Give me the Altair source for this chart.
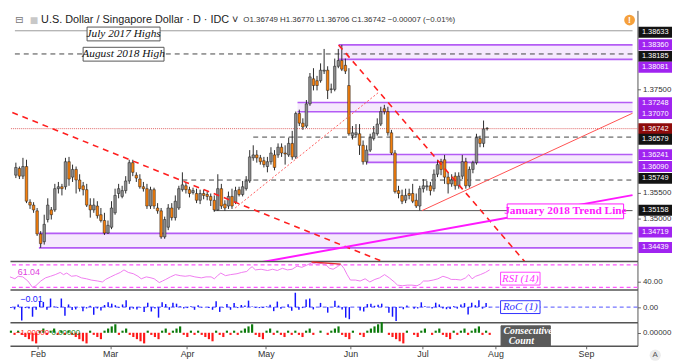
import altair as alt
import pandas as pd

# ---------------- data ----------------
opens = [
    1.35843, 1.35973, 1.35824, 1.36010, 1.35321, 1.35265, 1.35154, 1.34707, 1.34558, 1.34986,
    1.35172, 1.35172, 1.35582, 1.35619, 1.35619, 1.36103, 1.35805, 1.35954, 1.35750, 1.35638,
    1.35563, 1.35265, 1.35172, 1.35247, 1.35079, 1.34967, 1.34725, 1.34837, 1.35116, 1.35489,
    1.35433, 1.35545, 1.35731, 1.36085, 1.35843, 1.35768, 1.35619, 1.35582, 1.35247, 1.35563,
    1.35209, 1.35154, 1.34651, 1.34837, 1.35209, 1.35023, 1.35209, 1.35563, 1.35638, 1.35563,
    1.35508, 1.35489, 1.35358, 1.35489, 1.35470, 1.35433, 1.35358, 1.35172, 1.35582, 1.35284,
    1.35247, 1.35433, 1.35321, 1.35563, 1.35470, 1.35582, 1.35731, 1.36178, 1.36234, 1.36178,
    1.36122, 1.36010, 1.36103, 1.36234, 1.36234, 1.36383, 1.36271, 1.36234, 1.36457, 1.36196,
    1.37034, 1.36848, 1.36792, 1.37221, 1.37705, 1.37668, 1.37668, 1.37854, 1.37872, 1.37500,
    1.37500, 1.37947, 1.38059, 1.37966, 1.37575, 1.36606, 1.36625, 1.36643, 1.36420, 1.36103,
    1.36327, 1.36550, 1.36643, 1.36830, 1.37128, 1.37072, 1.36662, 1.36271, 1.35545, 1.35452,
    1.35358, 1.35489, 1.35489, 1.35358, 1.35247, 1.35582, 1.35619, 1.35638, 1.35582, 1.35861,
    1.36103, 1.36141, 1.35805, 1.35675, 1.35824, 1.35638, 1.35824, 1.36103, 1.35638, 1.35954,
    1.36085, 1.36550, 1.36457, 1.36749,
]
highs = [
    1.36085, 1.36010, 1.36178, 1.36141, 1.35377, 1.35321, 1.35209, 1.34762, 1.35079, 1.35396,
    1.35228, 1.35675, 1.35712, 1.35675, 1.36178, 1.36196, 1.36047, 1.36010, 1.35861, 1.35712,
    1.35675, 1.35396, 1.35396, 1.35340, 1.35209, 1.35116, 1.34967, 1.35340, 1.35582, 1.35675,
    1.35638, 1.35824, 1.36141, 1.36141, 1.35898, 1.35861, 1.35712, 1.35675, 1.35619, 1.35601,
    1.35303, 1.35209, 1.35042, 1.35284, 1.35303, 1.35452, 1.35638, 1.35898, 1.35712, 1.35619,
    1.35601, 1.35582, 1.35563, 1.35563, 1.35526, 1.35489, 1.35452, 1.35861, 1.35675, 1.35358,
    1.35526, 1.35582, 1.35619, 1.35619, 1.35731, 1.35824, 1.36327, 1.36420, 1.36327, 1.36234,
    1.36196, 1.36196, 1.36383, 1.36327, 1.36457, 1.36457, 1.36420, 1.36569, 1.36699, 1.37072,
    1.37109, 1.36941, 1.37295, 1.37817, 1.37910, 1.37761, 1.38003, 1.38282, 1.37947, 1.37612,
    1.38096, 1.38282, 1.38360, 1.38096, 1.37910, 1.36792, 1.36830, 1.36830, 1.36513, 1.36420,
    1.36643, 1.36792, 1.36941, 1.37165, 1.37202, 1.37165, 1.36718, 1.36327, 1.35638, 1.35563,
    1.35582, 1.35582, 1.35675, 1.35489, 1.35638, 1.35768, 1.35731, 1.35712, 1.35954, 1.36141,
    1.36159, 1.36234, 1.35898, 1.35861, 1.35898, 1.35898, 1.36234, 1.36178, 1.36010, 1.36122,
    1.36643, 1.36606, 1.36899, 1.36770,
]
lows = [
    1.35787, 1.35768, 1.35768, 1.35303, 1.35191, 1.35116, 1.34669, 1.34439, 1.34502, 1.34930,
    1.34986, 1.35135, 1.35489, 1.35452, 1.35563, 1.35638, 1.35712, 1.35489, 1.35526, 1.35452,
    1.35228, 1.35023, 1.35116, 1.35005, 1.34930, 1.34688, 1.34707, 1.34800, 1.35079, 1.35396,
    1.35396, 1.35489, 1.35675, 1.35824, 1.35712, 1.35582, 1.35526, 1.35191, 1.35191, 1.35191,
    1.35098, 1.34614, 1.34614, 1.34781, 1.34967, 1.34967, 1.35172, 1.35526, 1.35489, 1.35414,
    1.35470, 1.35303, 1.35284, 1.35377, 1.35358, 1.35247, 1.35135, 1.35154, 1.35191, 1.35154,
    1.35191, 1.35191, 1.35284, 1.35433, 1.35433, 1.35545, 1.35694, 1.36122, 1.36085, 1.36047,
    1.35992, 1.35898, 1.36047, 1.35936, 1.36178, 1.36196, 1.36047, 1.36196, 1.36141, 1.36159,
    1.36792, 1.36718, 1.36755, 1.37183, 1.37481, 1.37481, 1.37630, 1.37798, 1.37314, 1.37426,
    1.37463, 1.37910, 1.37854, 1.37798, 1.36606, 1.36532, 1.36569, 1.36234, 1.36047, 1.36047,
    1.36290, 1.36513, 1.36606, 1.36792, 1.37016, 1.36606, 1.36234, 1.35489, 1.35396, 1.35284,
    1.35303, 1.35377, 1.35303, 1.35209, 1.35158, 1.35508, 1.35545, 1.35452, 1.35526, 1.35805,
    1.35843, 1.35675, 1.35489, 1.35619, 1.35563, 1.35582, 1.35768, 1.35582, 1.35601, 1.35880,
    1.36047, 1.36383, 1.36383, 1.36706,
]
closes = [
    1.35992, 1.35824, 1.36010, 1.35340, 1.35265, 1.35172, 1.34707, 1.34520, 1.34893, 1.35265,
    1.35079, 1.35582, 1.35619, 1.35582, 1.36103, 1.35768, 1.35954, 1.35750, 1.35582, 1.35563,
    1.35265, 1.35172, 1.35265, 1.35060, 1.34967, 1.34725, 1.34874, 1.35209, 1.35452, 1.35582,
    1.35545, 1.35731, 1.36085, 1.35898, 1.35787, 1.35619, 1.35582, 1.35247, 1.35563, 1.35247,
    1.35154, 1.34651, 1.34986, 1.35209, 1.35023, 1.35340, 1.35582, 1.35656, 1.35563, 1.35489,
    1.35545, 1.35358, 1.35489, 1.35452, 1.35433, 1.35358, 1.35172, 1.35582, 1.35247, 1.35209,
    1.35433, 1.35247, 1.35545, 1.35470, 1.35619, 1.35731, 1.36196, 1.36234, 1.36178, 1.36103,
    1.36047, 1.36103, 1.36271, 1.35992, 1.36383, 1.36271, 1.36252, 1.36457, 1.36196, 1.37034,
    1.36848, 1.36774, 1.37221, 1.37742, 1.37575, 1.37575, 1.37872, 1.37872, 1.37481, 1.37510,
    1.37947, 1.38059, 1.37891, 1.37854, 1.36643, 1.36662, 1.36662, 1.36420, 1.36103, 1.36327,
    1.36569, 1.36662, 1.36830, 1.37072, 1.37072, 1.36662, 1.36271, 1.35526, 1.35489, 1.35340,
    1.35452, 1.35452, 1.35340, 1.35247, 1.35582, 1.35638, 1.35638, 1.35545, 1.35861, 1.36047,
    1.35954, 1.35805, 1.35675, 1.35750, 1.35638, 1.35824, 1.36103, 1.35638, 1.35954, 1.36085,
    1.36569, 1.36457, 1.36737, 1.36742,
]
roc_vals = [
    -0.05, -0.12, 0.14, -0.70, -0.05, -0.07, -0.50, -0.14, 0.30, 0.27,
    -0.14, 0.45, 0.03, -0.03, 0.45, -0.45, 0.14, -0.15, -0.12, -0.01,
    -0.22, -0.07, 0.07, -0.40, -0.07, -0.18, 0.11, 0.25, 0.18, 0.10,
    -0.03, 0.14, 0.36, -0.14, -0.08, -0.12, -0.03, -0.25, 0.23, -0.23,
    -0.07, -0.55, 0.25, 0.16, -0.14, 0.23, 0.18, 0.05, -0.07, -0.05,
    0.04, -0.14, 0.10, -0.03, -0.01, -0.05, -0.14, 0.30, -0.25, -0.03,
    0.16, -0.14, 0.22, -0.05, 0.11, 0.08, 0.34, 0.03, -0.04, -0.05,
    -0.04, 0.04, 0.12, -0.21, 0.29, -0.08, -0.01, 0.15, -0.19, 0.75,
    -0.14, -0.05, 0.40, 0.45, -0.12, 0.00, 0.22, 0.00, -0.29, 0.01,
    0.33, 0.08, -0.12, -0.55, -0.63, 0.01, 0.00, -0.18, -0.23, 0.16,
    0.18, 0.07, 0.12, 0.18, 0.00, -0.30, -0.50, -0.72, -0.03, -0.11,
    0.08, 0.00, -0.08, -0.07, 0.25, 0.04, 0.00, -0.07, 0.23, 0.14,
    -0.07, -0.11, -0.10, 0.05, -0.08, 0.14, 0.21, -0.38, 0.23, 0.10,
    0.36, -0.08, 0.21, -0.01,
]
count_vals = [
    1, -1, 1, -1, -2, -3, -4, -5, 1, 2,
    -1, 1, 2, -1, 1, -1, 1, -1, -2, -3,
    -4, -5, 1, -1, -2, -3, 1, 2, 3, 4,
    -1, 1, 2, -1, -2, -3, -4, -5, 1, -1,
    -2, -3, 1, 2, -1, 1, 2, 3, -1, -2,
    1, -1, 1, -1, -2, -3, -4, 1, -1, -2,
    1, -1, 1, -1, 1, 2, 3, 4, -1, -2,
    -3, 1, 2, -1, 1, -1, -2, 1, -1, 1,
    -1, -2, 1, 2, -1, 0, 1, 0, -1, 1,
    2, 3, -1, -2, -3, 1, 0, -1, -2, 1,
    2, 3, 4, 5, 0, -1, -2, -3, -4, -5,
    1, 0, -1, -2, 1, 2, 0, -1, 1, 2,
    -1, -2, -3, 1, -1, 1, 2, -1, 1, 2,
    3, -1, 1, -1,
]
# RSI(14) read at points along the line: (bar position, value)
rsi_read = [
    (-0.27, 48.6), (1.1, 45.2), (2.0, 49.7), (3.3, 48.6), (4.7, 41.3), (6.0, 30.0), (6.9, 32.9),
    (8.3, 41.3), (9.6, 46.9), (11.0, 49.7), (12.3, 52.6), (13.7, 56.5), (14.6, 52.6), (15.5, 55.4),
    (16.8, 49.7), (18.2, 50.8), (19.6, 46.9), (21.0, 45.2), (22.3, 43.0), (24.1, 41.3), (25.4, 39.6),
    (26.3, 44.1), (27.7, 48.6), (29.0, 52.6), (30.4, 56.5), (31.4, 61.0), (32.6, 56.5), (34.0, 54.2),
    (35.3, 49.7), (36.2, 45.2), (37.6, 48.6), (38.9, 46.9), (39.8, 45.2), (41.2, 38.5), (42.1, 41.3),
    (43.0, 44.1), (44.3, 48.6), (45.7, 52.6), (47.0, 50.8), (48.4, 49.7), (49.7, 50.8), (51.1, 48.6),
    (52.9, 46.9), (54.2, 48.6), (55.6, 48.6), (56.5, 45.2), (57.4, 50.8), (58.3, 55.4), (59.6, 50.8),
    (61.0, 52.6), (62.8, 54.2), (64.1, 56.5), (65.5, 58.2), (66.4, 63.8), (67.0, 66.6), (67.9, 61.0),
    (69.5, 62.1), (71.3, 59.9), (72.7, 62.1), (74.0, 59.9), (75.4, 63.8), (76.8, 61.0), (78.1, 62.1),
    (79.5, 67.7), (80.8, 65.5), (82.2, 69.4), (83.5, 73.4), (84.9, 71.1), (86.2, 72.3), (87.6, 69.4),
    (88.5, 63.8), (89.5, 62.1), (90.7, 66.6), (91.6, 71.1), (92.5, 63.8), (93.4, 52.6), (94.3, 43.0),
    (95.7, 43.0), (97.0, 41.3), (98.4, 45.2), (99.7, 39.6), (101.1, 44.1), (102.4, 46.9), (103.8, 52.6),
    (105.1, 46.9), (106.5, 39.6), (107.4, 34.0), (108.7, 32.9), (110.1, 34.0), (111.4, 34.0),
    (112.8, 32.9), (113.7, 35.7), (114.6, 41.3), (115.9, 41.3), (117.3, 43.0), (118.6, 45.2),
    (120.0, 49.7), (121.4, 46.9), (122.3, 44.1), (123.6, 44.1), (125.0, 43.0), (126.3, 46.9),
    (127.2, 52.6), (128.1, 45.2), (129.1, 49.7), (130.4, 52.6), (131.8, 56.5), (133.0, 61.04),
]
rsi_div = [(83.5, 75.1), (91.6, 71.2)]

month_names = ["Feb", "Mar", "Apr", "May", "Jun", "Jul", "Aug", "Sep"]
month_pos = [7.46, 27.57, 48.92, 70.81, 94.32, 114.32, 134.59, 159.73]

zone_lo = [1.38081, 1.37070, 1.36090, 1.34439]
zone_hi = [1.38360, 1.37248, 1.36241, 1.34719]
zone_from = [91.1, 79.5, 99.0, 6.5]

level_vals = [1.38633, 1.38185, 1.36579, 1.35749, 1.35158]
level_from = [-0.27, -0.27, 67.0, 47.0, 55.9]
level_style = ["light", "dash", "dash", "dash", "solid"]
last_price = 1.36742

tag_text = ["1.38633", "1.38360", "1.38185", "1.38081", "1.37248", "1.37070", "1.36742",
            "1.36579", "1.36241", "1.36090", "1.35749", "1.35158", "1.34719", "1.34439"]
tag_anchor = [1.38604, 1.38362, 1.38139, 1.37928, 1.37245, 1.37034, 1.36742,
              1.36537, 1.36239, 1.36010, 1.35781, 1.35165, 1.34744, 1.34446]
tag_kind = ["level", "zone", "level", "zone", "zone", "zone", "price",
            "level", "zone", "zone", "level", "level", "zone", "zone"]
axis_prices = [1.35, 1.355, 1.375]

# drawn trend lines: (bar position, price)
red_dash_a = [(-1.0, 1.37054), (105.0, 1.34133)]
red_dash_b = [(91.1, 1.38360), (145.7, 1.34007)]
red_dotted = [(61.9, 1.35209), (102.4, 1.37444)]
red_thin = [(114.6, 1.35158), (174.05, 1.37040)]
magenta_tl = [(65.9, 1.34120), (174.05, 1.35457)]

title_txt = "U.S. Dollar / Singapore Dollar · D · IDC ˅"
ohlc_txt = "O1.36749  H1.36770  L1.36706  C1.36742  −0.00007 (−0.01%)"

# ---------------- layout ----------------
W = 636
H_MAIN, H_RSI, H_ROC, H_CNT = 254, 29, 33, 24
X_DOM = [-0.27, 174.05]
X_END = X_DOM[1]
SANS = "Liberation Sans"
SERIF = "Liberation Serif"

xs = alt.Scale(domain=X_DOM, nice=False, zero=False)
ys_main = alt.Scale(domain=[1.34185, 1.39027], nice=False, zero=False)
ys_rsi = alt.Scale(domain=[26.1, 76.75], nice=False, zero=False)
ys_roc = alt.Scale(domain=[-0.785, 0.915], nice=False, zero=False)
ys_cnt = alt.Scale(domain=[-6.14, 5.0], nice=False, zero=False)

xaxis_sep = alt.Axis(orient="bottom", labels=False, ticks=False, domain=True,
                     domainColor="#555555", domainWidth=1.5, grid=False, title=None)

lab_expr = f"'{month_names[-1]}'"
for p, nm in zip(reversed(month_pos[:-1]), reversed(month_names[:-1])):
    lab_expr = f"datum.value < {p + 1} ? '{nm}' : ({lab_expr})"
xaxis_month = alt.Axis(orient="bottom", values=month_pos, labelExpr=lab_expr, labelFontSize=9,
                       labelColor="#333333", labelFont=SANS, tickSize=3, tickColor="#666666",
                       domain=True, domainColor="#555555", domainWidth=1.5, grid=False,
                       title=None, labelPadding=1)


def yaxis(values, fmt):
    return alt.Axis(orient="right", values=values, format=fmt, title=None, grid=False,
                    labelFontSize=8, labelColor="#333333", labelFont=SANS, tickSize=3,
                    tickColor="#666666", domainColor="#555555", domainWidth=1, labelPadding=2)


def mk_x(axis):
    return lambda f: alt.X(f"{f}:Q", scale=xs, axis=axis, title=None)


def mk_y(scale, axis):
    return lambda f: alt.Y(f"{f}:Q", scale=scale, axis=axis, title=None)


def rect_path(w, h):
    r = h / w
    return f"M-1,{-r:.4f}L1,{-r:.4f}L1,{r:.4f}L-1,{r:.4f}Z"


def box(df, Xf, Yf, w, h, fill, stroke, sw=1.0):
    return alt.Chart(df).mark_point(shape=rect_path(w, h), size=w * w, filled=True, fill=fill,
                                    stroke=stroke, strokeWidth=sw, opacity=1).encode(
        x=Xf("i"), y=Yf("p"))


def line_df(pts):
    return pd.DataFrame({"i": [a for a, b in pts], "p": [b for a, b in pts]})


# ---------------- main panel ----------------
Xm = mk_x(xaxis_sep)
Ym = mk_y(ys_main, yaxis(axis_prices, ".5f"))

n = len(closes)
candles = pd.DataFrame({"i": list(range(n)), "o": opens, "h": highs, "l": lows, "c": closes})

zones = pd.DataFrame({"start": zone_from, "end": [X_END] * len(zone_lo), "lo": zone_lo, "hi": zone_hi})
zone_fill = alt.Chart(zones).mark_rect(color="#f5e9fd").encode(
    x=Xm("start"), x2="end:Q", y=Ym("lo"), y2="hi:Q")
zone_lines = alt.Chart(zones).transform_fold(["lo", "hi"], as_=["k", "p"]).mark_rule(
    color="#b45cf5", strokeWidth=1.6).encode(x=Xm("start"), x2="end:Q", y=Ym("p"))

levels = pd.DataFrame({"start": level_from, "end": [X_END] * len(level_vals),
                       "p": level_vals, "style": level_style})
lv_dash = alt.Chart(levels).transform_filter("datum.style == 'dash'").mark_rule(
    color="#444444", strokeDash=[5, 4], strokeWidth=1).encode(x=Xm("start"), x2="end:Q", y=Ym("p"))
lv_solid = alt.Chart(levels).transform_filter("datum.style == 'solid'").mark_rule(
    color="#555555", strokeWidth=1).encode(x=Xm("start"), x2="end:Q", y=Ym("p"))
lv_light = alt.Chart(levels).transform_filter("datum.style == 'light'").mark_rule(
    color="#9a9a9a", strokeWidth=1).encode(x=Xm("start"), x2="end:Q", y=Ym("p"))
price_line = alt.Chart(pd.DataFrame({"p": [last_price]})).mark_rule(
    color="#e06666", strokeDash=[1, 1], strokeWidth=1).encode(y=Ym("p"))

wicks = alt.Chart(candles).mark_rule(color="#2b2b2b", strokeWidth=1).encode(
    x=Xm("i"), y=Ym("l"), y2="h:Q")
bodies = alt.Chart(candles).transform_calculate(
    lo="min(datum.o, datum.c)",
    hi="max(max(datum.o, datum.c), min(datum.o, datum.c) + 0.00004)",
    col="datum.c >= datum.o ? '#8c8c8c' : '#f57f0c'",
).mark_bar(size=2.6, stroke="#1a1a1a", strokeWidth=0.5).encode(
    x=Xm("i"), y=Ym("lo"), y2="hi:Q", color=alt.Color("col:N", scale=None))

dash_lines = pd.concat([line_df(red_dash_a).assign(id="a"), line_df(red_dash_b).assign(id="b")])
tl_red_dash = alt.Chart(dash_lines).mark_line(color="#ff1f1f", strokeDash=[6, 5], strokeWidth=1.6,
                                             clip=True).encode(x=Xm("i"), y=Ym("p"), detail="id:N")
tl_red_dot = alt.Chart(line_df(red_dotted)).mark_line(color="#ff5a5a", strokeDash=[2, 2], strokeWidth=1,
                                                      clip=True).encode(x=Xm("i"), y=Ym("p"))
tl_red_thin = alt.Chart(line_df(red_thin)).mark_line(color="#ff5050", strokeWidth=1, clip=True).encode(
    x=Xm("i"), y=Ym("p"))
tl_magenta = alt.Chart(line_df(magenta_tl)).mark_line(color="#ff19ff", strokeWidth=2, clip=True).encode(
    x=Xm("i"), y=Ym("p"))

july_df = pd.DataFrame({"i": [30.4], "p": [1.38571], "t": ["July 2017 Highs"]})
aug_df = pd.DataFrame({"i": [30.4], "p": [1.38180], "t": ["August 2018 High"]})
jan_df = pd.DataFrame({"i": [155.1], "p": [1.35144], "t": ["January 2018 Trend Line"]})

note_layers = [
    box(july_df, Xm, Ym, 74, 14, "white", "#555555"),
    box(aug_df, Xm, Ym, 82, 14, "white", "#555555"),
    box(jan_df, Xm, Ym, 118, 15, "white", "#ff19ff"),
]
for d in (july_df, aug_df):
    note_layers.append(alt.Chart(d).mark_text(font=SERIF, fontStyle="italic", fontSize=11.5,
                                              color="#111111").encode(x=Xm("i"), y=Ym("p"), text="t:N"))
note_layers.append(alt.Chart(jan_df).mark_text(font=SERIF, fontWeight="bold", fontSize=11.5,
                                               color="#ff19ff").encode(x=Xm("i"), y=Ym("p"), text="t:N"))

tag_color = {"level": "#131313", "zone": "#a024f0", "price": "#8e0b0b"}
tags = pd.DataFrame({"t": tag_text, "p": tag_anchor, "col": [tag_color[k] for k in tag_kind]})
tag_boxes = alt.Chart(tags).mark_point(shape=rect_path(34, 11), size=34 * 34, filled=True,
                                       opacity=1).encode(
    x=alt.value(W + 18), y=Ym("p"), color=alt.Color("col:N", scale=None))
tag_texts = alt.Chart(tags).mark_text(font=SANS, fontSize=7.5, color="white").encode(
    x=alt.value(W + 18), y=Ym("p"), text="t:N")

one = pd.DataFrame({"a": [0]})
head = [
    alt.Chart(one).mark_text(text="⊟", font="DejaVu Sans", fontSize=10, color="#777777",
                             align="left").encode(x=alt.value(5), y=alt.value(9.8)),
    alt.Chart(one).mark_text(text="■", font="DejaVu Sans", fontSize=9, color="#c8c8c8",
                             align="left").encode(x=alt.value(20), y=alt.value(9.8)),
    alt.Chart(one).mark_text(text=title_txt, font=SANS, fontSize=11, color="#222222",
                             align="left").encode(x=alt.value(31.5), y=alt.value(9.8)),
    alt.Chart(one).mark_text(text=ohlc_txt, font=SANS, fontSize=8, color="#333333",
                             align="left").encode(x=alt.value(236.5), y=alt.value(9.8)),
    alt.Chart(one).mark_point(shape="circle", filled=True, size=120, color="#f5a03c",
                              opacity=1).encode(x=alt.value(628), y=alt.value(9.8)),
    alt.Chart(one).mark_text(text="!", font=SANS, fontWeight="bold", fontSize=9,
                             color="white").encode(x=alt.value(628), y=alt.value(10.2)),
]

main = alt.layer(
    zone_fill, zone_lines, lv_light, lv_dash, lv_solid, price_line,
    wicks, bodies,
    tl_red_dash, tl_red_dot, tl_red_thin, tl_magenta,
    *note_layers, tag_boxes, tag_texts, *head,
).properties(width=W, height=H_MAIN)

# ---------------- RSI panel ----------------
Yr = mk_y(ys_rsi, yaxis([40], ".2f"))
rsi_df = line_df(rsi_read)
rsi_lv = alt.Chart(pd.DataFrame({"p": [70, 30]})).mark_rule(
    color="#ff55ff", strokeDash=[4, 3], strokeWidth=1.2).encode(y=Yr("p"))
rsi_line = alt.Chart(rsi_df).mark_line(color="#f07cf0", strokeWidth=1).encode(x=Xm("i"), y=Yr("p"))
rsi_red = alt.Chart(line_df(rsi_div)).mark_line(color="#e53030", strokeWidth=1.5).encode(
    x=Xm("i"), y=Yr("p"))
rsi_val_df = pd.DataFrame({"i": [1.9], "p": [57.5], "t": ["61.04"]})
rsi_val = alt.Chart(rsi_val_df).mark_text(font=SANS, fontSize=9, color="#e040e0", align="left").encode(
    x=Xm("i"), y=Yr("p"), text="t:N")
rsi_lab_df = pd.DataFrame({"i": [141.5], "p": [45.5], "t": ["RSI (14)"]})
rsi_lab = [
    box(rsi_lab_df, Xm, Yr, 40, 13, "white", "#ff44ff"),
    alt.Chart(rsi_lab_df).mark_text(font=SERIF, fontStyle="italic", fontSize=11, color="#ff33ff").encode(
        x=Xm("i"), y=Yr("p"), text="t:N"),
]
rsi = alt.layer(rsi_lv, rsi_line, rsi_red, rsi_val, *rsi_lab).properties(width=W, height=H_RSI)

# ---------------- RoC panel ----------------
Yo = mk_y(ys_roc, yaxis([0], ".2f"))
ind = pd.DataFrame({"i": list(range(n)), "roc": roc_vals, "cnt": count_vals})
roc_zero = alt.Chart(pd.DataFrame({"p": [0]})).mark_rule(
    color="#5050ff", strokeDash=[4, 3], strokeWidth=1).encode(y=Yo("p"))
roc_bars = alt.Chart(ind).mark_rule(color="#1414ff", strokeWidth=1.5).encode(
    x=Xm("i"), y=Yo("roc"), y2=alt.Y2(datum=0))
roc_val_df = pd.DataFrame({"i": [2.6], "p": [0.4], "t": ["−0.01"]})
roc_val = alt.Chart(roc_val_df).mark_text(font=SANS, fontSize=9, color="#2020ff", align="left").encode(
    x=Xm("i"), y=Yo("p"), text="t:N")
roc_lab_df = pd.DataFrame({"i": [141.5], "p": [0.0], "t": ["RoC (1)"]})
roc_lab = [
    box(roc_lab_df, Xm, Yo, 40, 13, "white", "#3030ff"),
    alt.Chart(roc_lab_df).mark_text(font=SERIF, fontStyle="italic", fontSize=11, color="#3030ff").encode(
        x=Xm("i"), y=Yo("p"), text="t:N"),
]
roc = alt.layer(roc_zero, roc_bars, roc_val, *roc_lab).properties(width=W, height=H_ROC)

# ---------------- Consecutive count panel ----------------
Xc = mk_x(xaxis_month)
Yc = mk_y(ys_cnt, yaxis([0], ".5f"))
cnt_bars = alt.Chart(ind).transform_calculate(
    col="datum.cnt >= 0 ? '#0b7a0b' : '#ff1a1a'").mark_rule(strokeWidth=2.2).encode(
    x=Xc("i"), y=Yc("cnt"), y2=alt.Y2(datum=0), color=alt.Color("col:N", scale=None))
cnt_txt_df = pd.DataFrame({"i": [1.4, 11.3], "p": [-0.3, -0.3], "t": ["−1.00000", "0.00000"],
                           "col": ["#ff2020", "#0b7a0b"]})
cnt_txt = alt.Chart(cnt_txt_df).mark_text(font=SANS, fontSize=8, align="left").encode(
    x=Xc("i"), y=Yc("p"), text="t:N", color=alt.Color("col:N", scale=None))
cc_df = pd.DataFrame({"i": [143.0], "p": [-1.6]})
cc_t1 = pd.DataFrame({"i": [136.8], "p": [0.8], "t": ["Consecutive"]})
cc_t2 = pd.DataFrame({"i": [138.3], "p": [-4.0], "t": ["Count"]})
cnt_lab = [
    box(cc_df, Xc, Yc, 50, 21, "#5a5a5a", "#5a5a5a"),
    alt.Chart(cc_t1).mark_text(font=SERIF, fontStyle="italic", fontWeight="bold", fontSize=10,
                               color="white", align="left").encode(x=Xc("i"), y=Yc("p"), text="t:N"),
    alt.Chart(cc_t2).mark_text(font=SERIF, fontStyle="italic", fontWeight="bold", fontSize=10,
                               color="white", align="left").encode(x=Xc("i"), y=Yc("p"), text="t:N"),
]
a_badge = [
    alt.Chart(one).mark_point(shape="circle", filled=True, size=130, color="#ececec", opacity=1).encode(
        x=alt.value(W + 18), y=alt.value(H_CNT + 9.5)),
    alt.Chart(one).mark_text(text="A", font=SANS, fontSize=8, color="#555555").encode(
        x=alt.value(W + 18), y=alt.value(H_CNT + 9.5)),
]
cnt = alt.layer(cnt_bars, cnt_txt, *cnt_lab, *a_badge).properties(width=W, height=H_CNT)

chart = alt.vconcat(main, rsi, roc, cnt, spacing=0, bounds="flush").properties(
    padding=0, background="white"
).configure_view(stroke=None)

chart.save("out.html", embed_options={"renderer": "svg", "actions": False})
